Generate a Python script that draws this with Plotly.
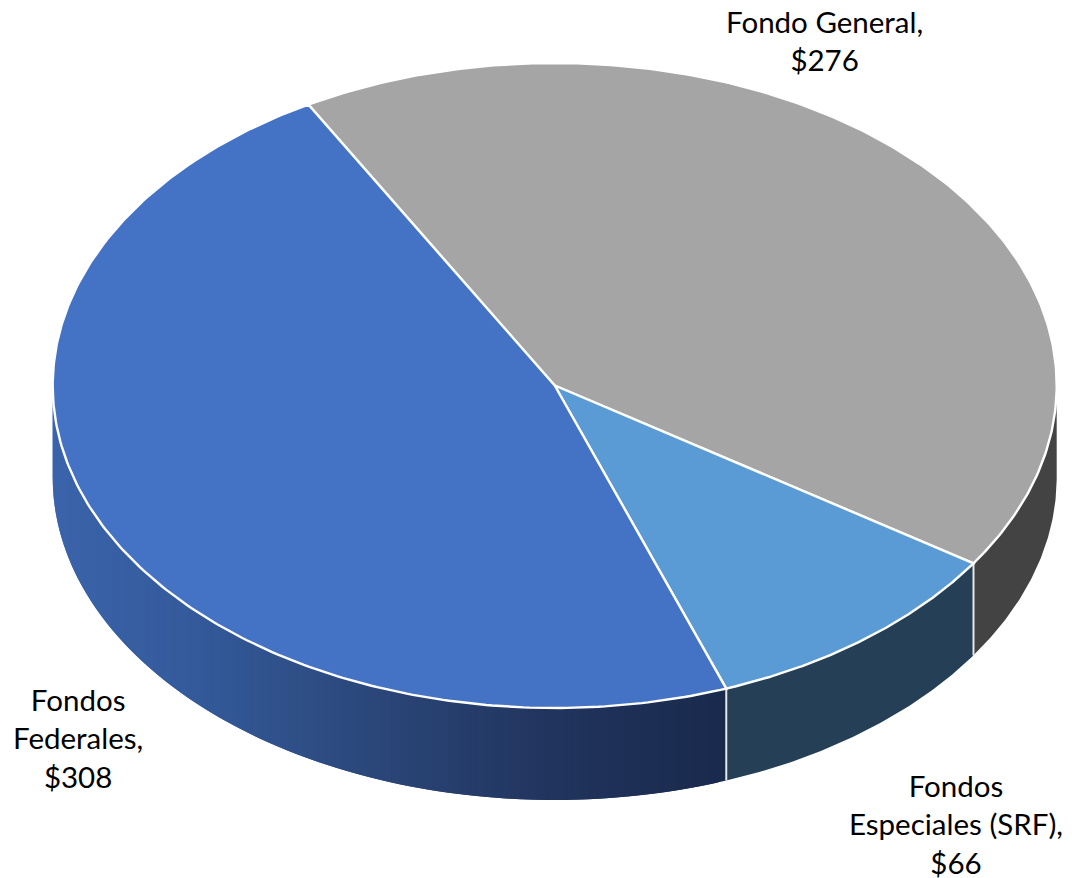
import numpy as np
import plotly.graph_objects as go

categories = ["Fondo General", "Fondos Especiales (SRF)", "Fondos Federales"]
values = [276, 66, 308]
label_lines = [["Fondo General,", "$276"], ["Fondos", "Especiales (SRF),", "$66"], ["Fondos", "Federales,", "$308"]]
top_colors = ["#A5A5A5", "#5B9BD5", "#4472C4"]
side_colors = ["#434343", "#253F56", None]
label_pos = [(824, 40.5), (956, 823.5), (78, 737.5)]

CX, CY, RX, RY, DEPTH = 554.7, 385.5, 502.0, 322.5, 92.0
START_DEG = -29.4
WIDTH, HEIGHT = 1072, 878
GRAD_X = [53, 200, 400, 560, 727]
GRAD_RGB = np.array([[59, 100, 171], [52, 90, 154], [42, 68, 117], [33, 52, 93], [26, 42, 77]])


def px(a):
    return CX + RX * np.sin(np.radians(a))


def py(a, z=0.0):
    return CY - RY * np.cos(np.radians(a)) + z


total = sum(values)
edges = [START_DEG]
for v in values:
    edges.append(edges[-1] + v / total * 360)

fig = go.Figure()


def poly(xs, ys, fill, line_color, line_width):
    fig.add_trace(go.Scatter(
        x=list(xs), y=list(ys), mode="lines", fill="toself", fillcolor=fill,
        line=dict(color=line_color, width=line_width), hoverinfo="skip", showlegend=False))


def side_poly(a0, a1, fill, n):
    t = np.linspace(a0, a1, n)
    xs = np.concatenate([px(t), px(t[::-1])])
    ys = np.concatenate([py(t), py(t[::-1], DEPTH)])
    poly(xs, ys, fill, fill, 0)


# Sides: only the front half of the rim (90..270 degrees clockwise from top) is visible
for i, (a0, a1) in enumerate(zip(edges[:-1], edges[1:])):
    lo, hi = max(a0, 90), min(a1, 270)
    if lo >= hi:
        continue
    if side_colors[i]:
        side_poly(lo, hi, side_colors[i], 80)
    else:
        steps = np.linspace(lo, hi, 111)
        d = steps[1] - steps[0]
        for s0, s1 in zip(steps[:-1], steps[1:]):
            xm = px((s0 + s1) / 2)
            rgb = [np.interp(xm, GRAD_X, GRAD_RGB[:, k]) for k in range(3)]
            # each strip overlaps the next one, which paints over it, so no seams show
            side_poly(s0, min(s1 + d, hi), "rgb(%d,%d,%d)" % tuple(rgb), 5)

# White separators on the rim
for a in edges[1:3]:
    if 90 < a < 270:
        fig.add_trace(go.Scatter(
            x=[px(a), px(a)], y=[py(a), py(a, DEPTH)], mode="lines",
            line=dict(color="#E8E8E8", width=2), hoverinfo="skip", showlegend=False))

# Top faces
for i, (a0, a1) in enumerate(zip(edges[:-1], edges[1:])):
    t = np.linspace(a0, a1, 240)
    xs = np.concatenate([[CX], px(t), [CX]])
    ys = np.concatenate([[CY], py(t), [CY]])
    poly(xs, ys, top_colors[i], "#FFFFFF", 2.4)

for lines, (lx, ly) in zip(label_lines, label_pos):
    fig.add_annotation(x=lx, y=ly, text="<br>".join(lines), showarrow=False, align="center",
                       xanchor="center", yanchor="middle",
                       font=dict(family="Lato", size=29.5, color="#000000"))

fig.update_layout(
    width=WIDTH, height=HEIGHT, margin=dict(l=0, r=0, t=0, b=0),
    paper_bgcolor="#FFFFFF", plot_bgcolor="#FFFFFF", showlegend=False,
    xaxis=dict(range=[0, WIDTH], visible=False, fixedrange=True),
    yaxis=dict(range=[HEIGHT, 0], visible=False, fixedrange=True),
)
fig.write_html("out.html", config={"displayModeBar": False},
               post_script="document.body.style.margin='0';document.documentElement.style.overflow='hidden';")
